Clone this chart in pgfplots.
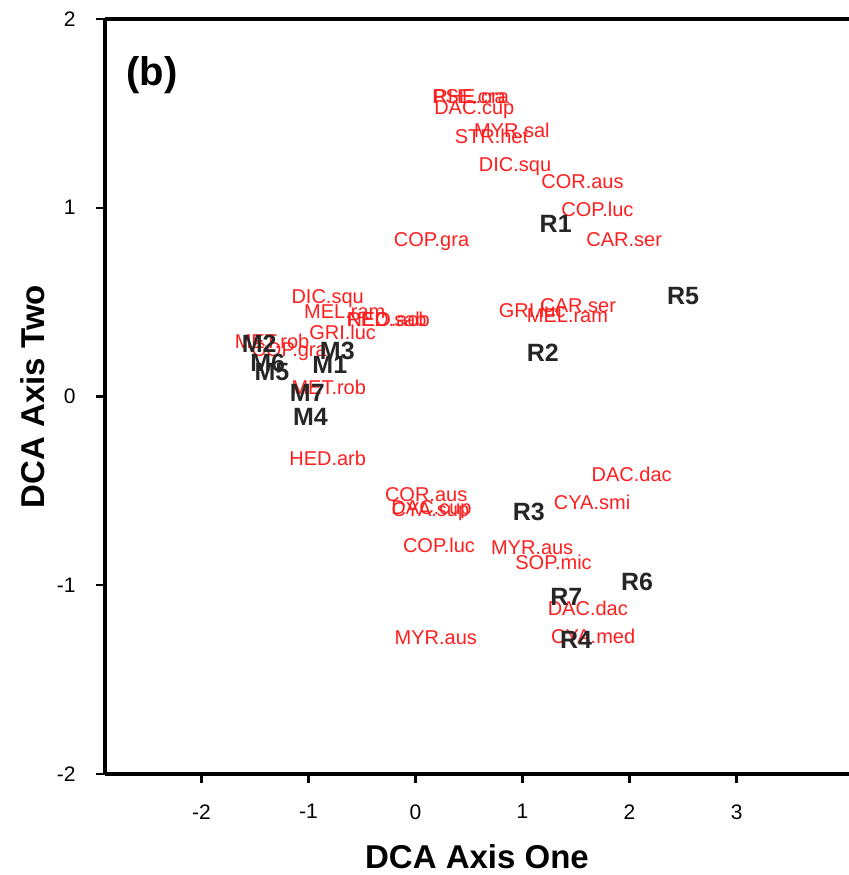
\documentclass[border=0pt]{standalone}
\usepackage{pgfplots}
\pgfplotsset{compat=1.18}
\usepackage{pgfplotstable}
\usepackage{fontspec}
\setmainfont{Liberation Sans}
\definecolor{spred}{RGB}{255,30,30}

\pgfplotstableread{
x y label
0.50 1.59 PSE.cra
0.52 1.59 RHE.cra
0.55 1.52 DAC.cup
0.90 1.41 MYR.sal
0.71 1.38 STR.het
0.93 1.22 DIC.squ
1.56 1.14 COR.aus
1.70 0.99 COP.luc
1.95 0.83 CAR.ser
0.15 0.82 COP.gra
-0.82 0.52 DIC.squ
-0.66 0.45 MEL.ram
-0.27 0.41 RED.sab
-0.25 0.41 NEO.aob
-0.68 0.34 GRI.luc
-1.34 0.29 MET.rob
-1.18 0.24 COP.gra
-0.81 0.05 MET.rob
-0.82 -0.33 HED.arb
1.09 0.455 GRI.luc
1.52 0.48 CAR.ser
1.42 0.43 MEL.ram
2.02 -0.41 DAC.dac
1.65 -0.56 CYA.smi
0.10 -0.52 COR.aus
0.14 -0.61 CYA.sup
0.15 -0.60 DAC.cup
0.22 -0.79 COP.luc
1.09 -0.80 MYR.aus
1.29 -0.88 SOP.mic
1.61 -1.12 DAC.dac
0.19 -1.28 MYR.aus
1.66 -1.27 CYA.med
}\species

\pgfplotstableread{
x y label
1.31 0.915 R1
2.50 0.53 R5
1.19 0.23 R2
1.06 -0.61 R3
2.07 -0.98 R6
1.41 -1.06 R7
1.50 -1.29 R4
-1.46 0.28 M2
-1.38 0.18 M6
-1.34 0.13 M5
-0.73 0.24 M3
-0.80 0.17 M1
-1.01 0.02 M7
-0.98 -0.11 M4
}\sites

\begin{document}
\begin{tikzpicture}
\begin{axis}[
  scale only axis,
  width=744pt, height=755pt,
  xmin=-2.9, xmax=4.05, ymin=-2, ymax=2,
  separate axis lines,
  axis x line=box, axis y line=left,
  axis line style={line width=3.2pt, -},
  xtick={-2,-1,0,1,2,3}, ytick={-2,-1,0,1,2},
  xtick pos=left, ytick pos=left,
  tick align=outside,
  major tick length=9pt,
  tick style={line width=2.4pt, black},
  /pgf/number format/assume math mode=true,
  ticklabel style={font=\fontsize{21}{25}\selectfont},
  xticklabel style={yshift=-18pt},
  yticklabel style={xshift=-17pt},
  xlabel={DCA Axis One},
  ylabel={DCA Axis Two},
  every axis x label/.style={at={(rel axis cs:0.5,0)}, anchor=center, yshift=-83pt, font=\bfseries\fontsize{33}{38}\selectfont},
  every axis y label/.style={at={(rel axis cs:0,0.5)}, rotate=90, anchor=center, yshift=72pt, font=\bfseries\fontsize{33}{38}\selectfont},
  clip=false,
]
\coordinate (SW) at (rel axis cs:0,0);
\coordinate (NE) at (rel axis cs:1,1);
\addplot[only marks, mark=none, nodes near coords, point meta=explicit symbolic,
  every node near coord/.style={anchor=center, text=spred, font=\fontsize{20}{24}\selectfont, inner sep=0pt}]
  table[x=x, y=y, meta=label] {\species};
\addplot[only marks, mark=none, nodes near coords, point meta=explicit symbolic,
  every node near coord/.style={anchor=center, text=black!85, font=\bfseries\fontsize{25}{30}\selectfont, inner sep=0pt}]
  table[x=x, y=y, meta=label] {\sites};
\node[font=\bfseries\fontsize{40}{46}\selectfont, anchor=center] at (axis cs:-2.46,1.70) {(b)};
\end{axis}
\pgfresetboundingbox
\path ([xshift=-105pt,yshift=-101pt]SW) rectangle ([yshift=19pt]NE);
\end{tikzpicture}
\end{document}
